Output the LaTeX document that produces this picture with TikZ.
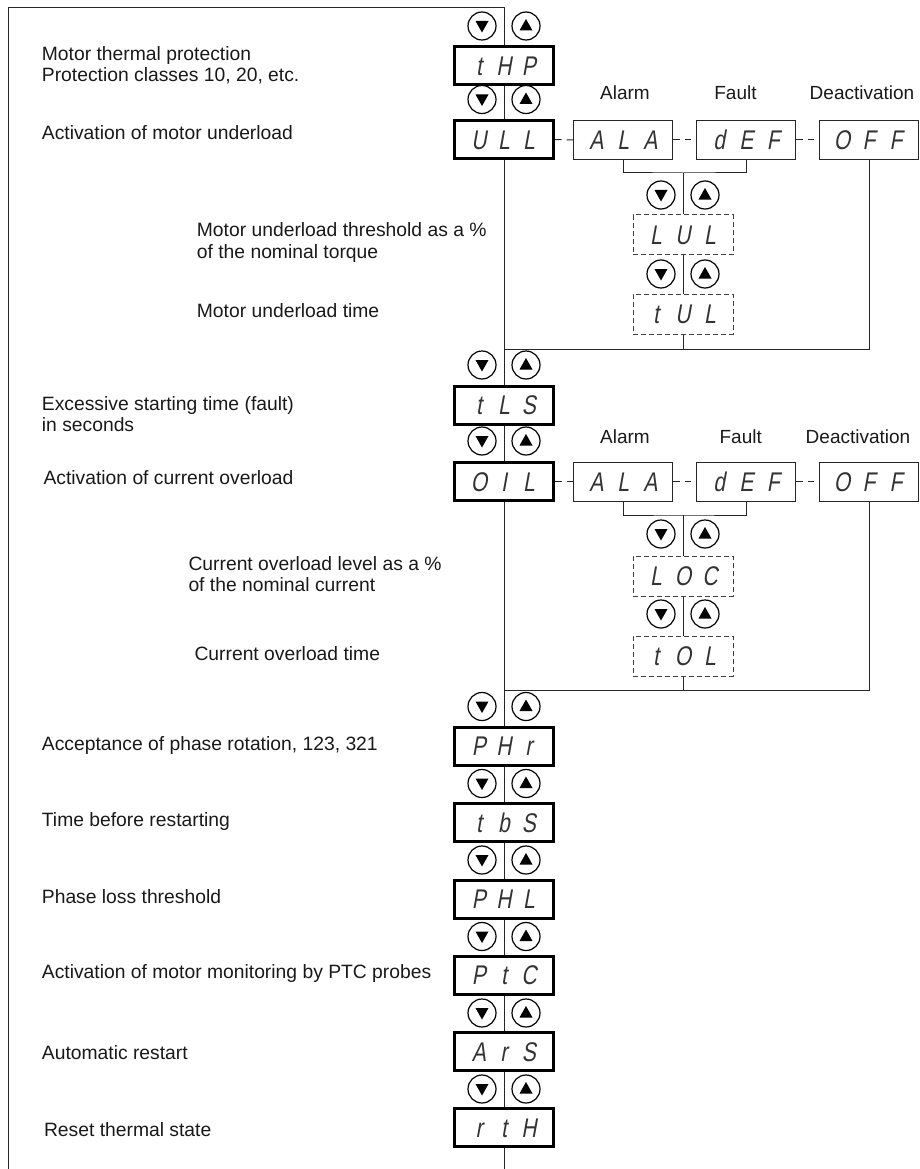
\documentclass[tikz,border=0pt]{standalone}
\usepackage{fontspec}
\setmainfont{Liberation Sans}
\newfontfamily\segfont{Liberation Sans}[FakeSlant=0.18,FakeStretch=0.78]
\newcommand\segtxt[4][25pt]{\makebox[#1]{#2}\makebox[#1]{#3}\makebox[#1]{#4}}
\tikzset{
  updown/.pic={
    \draw[line width=1.2pt] (-22,0) circle[radius=14];
    \draw[line width=1.2pt] (22,0) circle[radius=14];
    \fill (-28.5,-5) -- (-15.5,-5) -- (-22,6.5) -- cycle;
    \fill (15.5,4.5) -- (28.5,4.5) -- (22,-7) -- cycle;
  }
}
\begin{document}
\begin{tikzpicture}[x=1pt,y=-1pt,
  lbl/.style={font=\fontsize{19.3}{22}\selectfont, inner sep=0pt, anchor=base west, text=black!90},
  hdr/.style={font=\fontsize{19}{22}\selectfont, inner sep=0pt, anchor=base, text=black!90},
  segbase/.style={inner sep=0pt, text height=19.5pt, text depth=0pt, text=black!80,
    font=\segfont\fontsize{27}{27}\selectfont},
  mainbox/.style={segbase, draw, line width=3pt, minimum width=99pt, minimum height=38pt},
  optbox/.style={segbase, draw=black!85, line width=1pt, minimum width=99pt, minimum height=39pt},
  subbox/.style={segbase, draw=black!75, line width=1pt, dash pattern=on 5pt off 3pt,
    minimum width=100pt, minimum height=40pt},
  conn/.style={line width=1pt, draw=black!85},
  dconn/.style={conn, dash pattern=on 6.5pt off 5pt}
]
\useasboundingbox (0,0) rectangle (920,1169);

% coordinates
\coordinate (tl) at (8,8);
\coordinate (bl) at (8,1169);
\coordinate (b1) at (683,173);
\coordinate (j1) at (504,349);
\coordinate (b2) at (683,515);
\coordinate (j2) at (504,690.7);

% main column
\node[mainbox] (tHP) at (504,65.5) {\segtxt{t}{H}{P}};
\node[mainbox] (ULL) at (504,139.5) {\segtxt{U}{L}{L}};
\node[mainbox] (tLS) at (504,405) {\segtxt{t}{L}{S}};
\node[mainbox] (OIL) at (504,481.5) {\segtxt{O}{I}{L}};
\node[mainbox] (PHr) at (504,746) {\segtxt{P}{H}{r}};
\node[mainbox] (tbS) at (504,822.5) {\segtxt{t}{b}{S}};
\node[mainbox] (PHL) at (504,899) {\segtxt{P}{H}{L}};
\node[mainbox] (PtC) at (504,975) {\segtxt{P}{t}{C}};
\node[mainbox] (ArS) at (504,1051.5) {\segtxt{A}{r}{S}};
\node[mainbox] (rtH) at (504,1127.5) {\segtxt{r}{t}{H}};

% option boxes group 1
\node[optbox] (ALA1) at (623.3,140) {\segtxt[27pt]{A}{L}{A}};
\node[optbox] (dEF1) at (746.3,140) {\segtxt[27pt]{d}{E}{F}};
\node[optbox] (OFF1) at (869,140) {\segtxt[27pt]{O}{F}{F}};
\node[subbox] (LUL) at (683,234.5) {\segtxt[27pt]{L}{U}{L}};
\node[subbox] (tUL) at (683,314) {\segtxt[27pt]{t}{U}{L}};

% option boxes group 2
\node[optbox] (ALA2) at (623.3,481.5) {\segtxt[27pt]{A}{L}{A}};
\node[optbox] (dEF2) at (746.3,481.5) {\segtxt[27pt]{d}{E}{F}};
\node[optbox] (OFF2) at (869,481.5) {\segtxt[27pt]{O}{F}{F}};
\node[subbox] (LOC) at (683,576) {\segtxt[27pt]{L}{O}{C}};
\node[subbox] (tOL) at (683,656) {\segtxt[27pt]{t}{O}{L}};

% headers
\node[hdr] (al1) at (625,100) {Alarm};
\node[hdr] (fa1) at (735.5,100) {Fault};
\node[hdr] (de1) at (862,100) {Deactivation};
\node[hdr] (al2) at (625,443) {Alarm};
\node[hdr] (fa2) at (740.7,443) {Fault};
\node[hdr] (de2) at (858,443) {Deactivation};

% left labels
\node[lbl] (t1a) at (41.7,60.3) {Motor thermal protection};
\node[lbl] (t1b) at (41.7,81.7) {Protection classes 10, 20, etc.};
\node[lbl] (t2) at (41.7,140) {Activation of motor underload};
\node[lbl] (t3a) at (196.7,236) {Motor underload threshold as a \%};
\node[lbl] (t3b) at (196.7,258) {of the nominal torque};
\node[lbl] (t4) at (196.7,317.3) {Motor underload time};
\node[lbl] (t5a) at (41.7,410) {Excessive starting time (fault)};
\node[lbl] (t5b) at (41.7,431) {in seconds};
\node[lbl] (t6) at (43.3,484) {Activation of current overload};
\node[lbl] (t7a) at (188.3,570) {Current overload level as a \%};
\node[lbl] (t7b) at (188.3,591.7) {of the nominal current};
\node[lbl] (t8) at (194.3,660) {Current overload time};
\node[lbl] (t9) at (41.7,750) {Acceptance of phase rotation, 123, 321};
\node[lbl] (t10) at (41.7,826.7) {Time before restarting};
\node[lbl] (t11) at (41.7,903.3) {Phase loss threshold};
\node[lbl] (t12) at (41.7,978.3) {Activation of motor monitoring by PTC probes};
\node[lbl] (t13) at (41.7,1059.3) {Automatic restart};
\node[lbl] (t14) at (43.8,1136) {Reset thermal state};

% connectors
\draw[conn] (bl) -- (tl) -| (tHP.north);
\draw[conn] (tHP) -- (ULL);
\draw[conn] (ULL) -- (tLS);
\draw[conn] (tLS) -- (OIL);
\draw[conn] (OIL) -- (PHr);
\draw[conn] (PHr) -- (tbS);
\draw[conn] (tbS) -- (PHL);
\draw[conn] (PHL) -- (PtC);
\draw[conn] (PtC) -- (ArS);
\draw[conn] (ArS) -- (rtH);
\draw[conn] (rtH) -- (rtH.south |- bl);

\draw[dconn] (ULL) -- (ALA1);
\draw[dconn] (ALA1) -- (dEF1);
\draw[dconn] (dEF1) -- (OFF1);
\draw[conn] (ALA1.south) |- (b1) -| (dEF1.south);
\draw[conn] (b1) -- (LUL);
\draw[conn] (LUL) -- (tUL);
\draw[conn] (tUL) -- (tUL.south |- j1);
\draw[conn] (OFF1) |- (j1);

\draw[dconn] (OIL) -- (ALA2);
\draw[dconn] (ALA2) -- (dEF2);
\draw[dconn] (dEF2) -- (OFF2);
\draw[conn] (ALA2.south) |- (b2) -| (dEF2.south);
\draw[conn] (b2) -- (LOC);
\draw[conn] (LOC) -- (tOL);
\draw[conn] (tOL) -- (tOL.south |- j2);
\draw[conn] (OFF2) |- (j2);

% up/down keys
\foreach \yy in {26,99.5,365,441,706.5,783.5,860,936.5,1013,1089}
  \pic at (504,\yy) {updown};
\foreach \yy in {195,274,534,614}
  \pic at (683,\yy) {updown};
\end{tikzpicture}
\end{document}
